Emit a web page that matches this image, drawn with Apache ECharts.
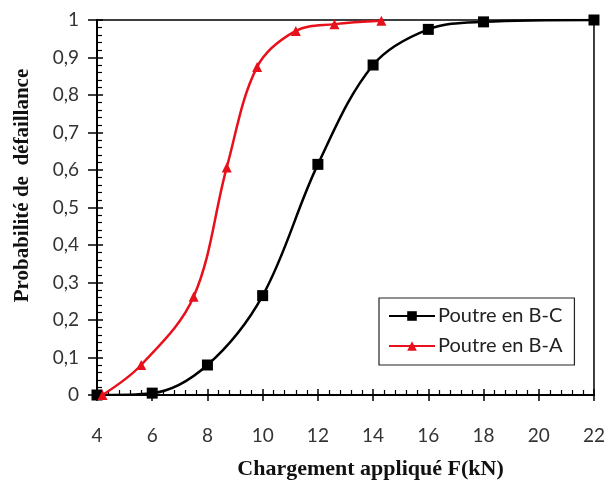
<!DOCTYPE html>
<html>
<head>
<meta charset="utf-8">
<script src="https://cdn.jsdelivr.net/npm/echarts@6/dist/echarts.min.js"></script>
<style>
html,body{margin:0;padding:0;background:#fff;}
#graph{width:608px;height:491px;}
</style>
</head>
<body>
<div id="graph"></div>
<script>
// Poutre en B-C (carres noirs)
var xBC = [4, 6, 8, 10, 12, 14, 16, 18, 22];
var yBC = [0, 0.005, 0.08, 0.265, 0.615, 0.88, 0.975, 0.995, 1];
// Poutre en B-A (triangles rouges)
var xBA = [4.2, 5.6, 7.5, 8.7, 9.8, 11.2, 12.6, 14.3];
var yBA = [0, 0.08, 0.262, 0.607, 0.875, 0.971, 0.989, 0.998];
var seriesNames = ['Poutre en B-C', 'Poutre en B-A'];

function pairs(xs, ys){
    var out = [];
    for(var i=0;i<xs.length;i++){
        out.push([xs[i], ys[i]]);
    }
    return out;
}

var labelFont = 'Lato';
var nameFont = '"Liberation Serif", "Times New Roman", serif';

var myChart = echarts.init(document.getElementById('graph'));
var option = {
    animation: false,
    grid: {
        left: 97, right: 14, top: 20, bottom: 96,
        show: true, borderColor: '#000', borderWidth: 1.5
    },
    legend: {
        orient: 'vertical',
        left: 379, top: 298,
        width: 195,
        padding: [8, 12, 9, 9],
        itemGap: 10,
        itemWidth: 46, itemHeight: 12,
        borderColor: '#222', borderWidth: 1.2,
        backgroundColor: '#fff',
        textStyle: { fontFamily: labelFont, fontSize: 20, color: '#222', padding: [0, 0, 0, -2] },
        data: seriesNames
    },
    xAxis: [{
        type: 'value',
        min: 4, max: 22, interval: 2,
        name: 'Chargement appliqué F(kN)',
        nameLocation: 'middle',
        nameGap: 63,
        nameTextStyle: { fontFamily: nameFont, fontWeight: 'bold', fontSize: 22, color: '#111', padding: [0, 0, 0, 50] },
        axisLine: { lineStyle: { color: '#000', width: 2 } },
        axisTick: { inside: true, length: 6, lineStyle: { color: '#000', width: 1.5 } },
        minorTick: { show: true, splitNumber: 5, length: 5, lineStyle: { color: '#000', width: 1.2 } },
        axisLabel: { margin: 31, fontFamily: labelFont, fontSize: 19, color: '#333' },
        splitLine: { show: false }
    }, {
        // partie exterieure des graduations principales
        type: 'value',
        position: 'top',
        offset: -375,
        min: 4, max: 22, interval: 2,
        axisLine: { show: false },
        axisTick: { show: true, inside: true, length: 6, lineStyle: { color: '#000', width: 1.5 } },
        axisLabel: { show: false },
        splitLine: { show: false }
    }],
    yAxis: [{
        type: 'value',
        min: 0, max: 1, interval: 0.1,
        name: 'Probabilité de  défaillance',
        nameLocation: 'middle',
        nameGap: 64,
        nameTextStyle: { fontFamily: nameFont, fontWeight: 'bold', fontSize: 21, color: '#111', padding: [0, 0, 0, 44] },
        axisLine: { lineStyle: { color: '#000', width: 2 } },
        axisTick: { inside: true, length: 6, lineStyle: { color: '#000', width: 1.5 } },
        minorTick: { show: true, splitNumber: 5, length: 5, lineStyle: { color: '#000', width: 1.2 } },
        axisLabel: {
            margin: 18, fontFamily: labelFont, fontSize: 19, color: '#333',
            formatter: function(v){ return (Math.round(v*10)/10 + '').replace('.', ','); }
        },
        splitLine: { show: false }
    }, {
        type: 'value',
        position: 'right',
        offset: -497,
        min: 0, max: 1, interval: 0.1,
        axisLine: { show: false },
        axisTick: { show: true, inside: true, length: 9, lineStyle: { color: '#000', width: 1.5 } },
        axisLabel: { show: false },
        splitLine: { show: false }
    }],
    series: [{
        name: seriesNames[0],
        type: 'line',
        data: pairs(xBC, yBC),
        smooth: 0.35,
        symbol: 'rect',
        symbolSize: 11,
        itemStyle: { color: '#000' },
        lineStyle: { color: '#000', width: 2.5 },
        z: 3
    }, {
        name: seriesNames[1],
        type: 'line',
        data: pairs(xBA, yBA),
        smooth: 0.35,
        symbol: 'triangle',
        symbolSize: 10,
        itemStyle: { color: '#e8101a' },
        lineStyle: { color: '#e8101a', width: 2.5 },
        z: 4
    }]
};
if (option && typeof option === "object") {
    myChart.setOption(option, true);
}
</script>
</body>
</html>
